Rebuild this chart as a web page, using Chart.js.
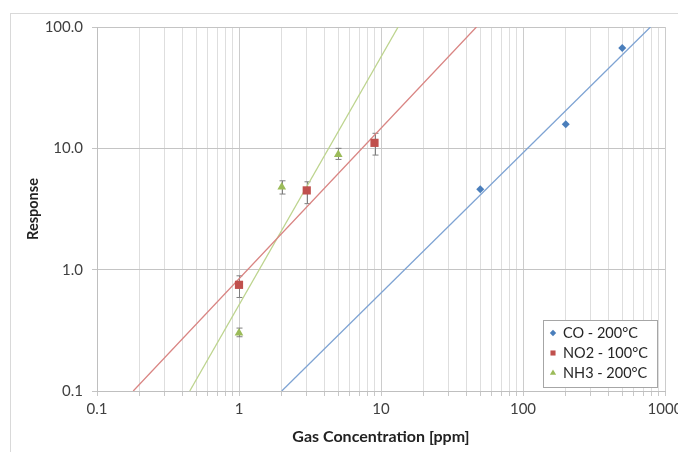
<!DOCTYPE html>
<html>
<head>
<meta charset="utf-8">
<script src="https://cdn.jsdelivr.net/npm/chart.js@4/dist/chart.umd.min.js"></script>
<style>
html, body { margin: 0; padding: 0; background: #fff; overflow: hidden; }
#wrap { position: relative; width: 678px; height: 452px; overflow: hidden; }
#frame { position: absolute; left: 10px; top: 13px; width: 700px; height: 460px;
         border-left: 1px solid #d9d9d9; border-top: 1px solid #d9d9d9; }
canvas { position: absolute; left: 0; top: 0; }
</style>
</head>
<body>
<div id="wrap">
  <div id="frame"></div>
  <canvas id="grafica" width="700" height="452"></canvas>
</div>
<script>
// measured points
var coX = [50, 200, 500];
var coY = [4.6, 15.8, 67];

var no2X = [1, 3, 9];
var no2Y = [0.75, 4.5, 11.1];
var no2Min = [0.59, 3.5, 8.8];
var no2Max = [0.89, 5.3, 13.3];

var nh3X = [1, 2, 5];
var nh3Y = [0.30, 4.8, 8.9];
var nh3Min = [0.28, 4.2, 8.1];
var nh3Max = [0.33, 5.4, 10.0];

// power-law trend lines, given by where they enter and leave the plot
var coTrendX = [2, 790];
var coTrendY = [0.1, 100];
var no2TrendX = [0.18, 47];
var no2TrendY = [0.1, 100];
var nh3TrendX = [0.45, 13.2];
var nh3TrendY = [0.1, 100];

var seriesNames = ['CO - 200°C', 'NO2 - 100°C', 'NH3 - 200°C'];
var seriesColors = ['#4a7ebb', '#c0504d', '#9bbb59'];
var trendColors = ['#7ea3d3', '#d98583', '#bdd48e'];
var markerStyles = ['rectRot', 'rect', 'triangle'];

var xTicks = [0.1, 1, 10, 100, 1000];
var xTickLabels = ['0.1', '1', '10', '100', '1000'];
var yTicks = [0.1, 1, 10, 100];
var yTickLabels = ['0.1', '1.0', '10.0', '100.0'];

function puntos(xs, ys) {
  var p = [];
  for (var i = 0; i < xs.length; i++) p.push({x: xs[i], y: ys[i]});
  return p;
}

Chart.defaults.font.family = 'Lato';
Chart.defaults.color = '#404040';

// vertical error bars for the series that have them
var errorBars = {
  id: 'errorBars',
  beforeDatasetsDraw: function (chart) {
    var ctx = chart.ctx;
    var xs = chart.scales.x, ys = chart.scales.y;
    var sets = [[no2X, no2Min, no2Max], [nh3X, nh3Min, nh3Max]];
    ctx.save();
    ctx.strokeStyle = '#7f7f7f';
    ctx.lineWidth = 1;
    sets.forEach(function (s) {
      for (var i = 0; i < s[0].length; i++) {
        var px = Math.round(xs.getPixelForValue(s[0][i])) + 0.5;
        var top = ys.getPixelForValue(s[2][i]);
        var bot = ys.getPixelForValue(s[1][i]);
        ctx.beginPath();
        ctx.moveTo(px, top); ctx.lineTo(px, bot);
        ctx.moveTo(px - 3, top); ctx.lineTo(px + 3, top);
        ctx.moveTo(px - 3, bot); ctx.lineTo(px + 3, bot);
        ctx.stroke();
      }
    });
    ctx.restore();
  }
};

// boxed legend inside the plot, lower right
var legendBox = {
  id: 'legendBox',
  afterDraw: function (chart) {
    var ctx = chart.ctx;
    var x0 = 543, y0 = 320, w = 114, h = 67;
    ctx.save();
    ctx.fillStyle = '#fff';
    ctx.fillRect(x0, y0, w, h);
    ctx.strokeStyle = '#a6a6a6';
    ctx.lineWidth = 1;
    ctx.strokeRect(x0 + 0.5, y0 + 0.5, w, h);
    ctx.font = '14.5px Lato';
    ctx.textBaseline = 'middle';
    for (var i = 0; i < seriesNames.length; i++) {
      var cy = y0 + 13 + i * 20;
      ctx.fillStyle = seriesColors[i];
      ctx.strokeStyle = seriesColors[i];
      Chart.helpers.drawPoint(ctx, {
        pointStyle: markerStyles[i], radius: i === 0 ? 3.2 : 3.6, rotation: 0, borderWidth: 0
      }, x0 + 10, cy);
      ctx.fillStyle = '#262626';
      ctx.fillText(seriesNames[i], x0 + 20, cy);
    }
    ctx.restore();
  }
};

var chart = new Chart(document.getElementById('grafica').getContext('2d'), {
  type: 'scatter',
  data: {
    datasets: [
      { label: seriesNames[0], data: puntos(coX, coY), backgroundColor: seriesColors[0],
        borderWidth: 0, pointStyle: 'rectRot', pointRadius: 4 },
      { label: seriesNames[1], data: puntos(no2X, no2Y), backgroundColor: seriesColors[1],
        borderWidth: 0, pointStyle: 'rect', pointRadius: 5.8 },
      { label: seriesNames[2], data: puntos(nh3X, nh3Y), backgroundColor: seriesColors[2],
        borderWidth: 0, pointStyle: 'triangle', pointRadius: 5 },
      { data: puntos(coTrendX, coTrendY), showLine: true, borderColor: trendColors[0],
        borderWidth: 1.3, pointRadius: 0 },
      { data: puntos(no2TrendX, no2TrendY), showLine: true, borderColor: trendColors[1],
        borderWidth: 1.3, pointRadius: 0 },
      { data: puntos(nh3TrendX, nh3TrendY), showLine: true, borderColor: trendColors[2],
        borderWidth: 1.3, pointRadius: 0 }
    ]
  },
  options: {
    responsive: false,
    animation: false,
    layout: { padding: { left: 25, top: 27, right: 35, bottom: 5 } },
    plugins: { legend: { display: false }, tooltip: { enabled: false } },
    scales: {
      x: {
        type: 'logarithmic', min: 0.1, max: 1000,
        afterBuildTicks: function (s) {
          var t = [];
          xTicks.forEach(function (v, i) {
            t.push({value: v});
            if (i < xTicks.length - 1) {
              for (var k = 2; k < 10; k++) t.push({value: v * k});
            }
          });
          s.ticks = t;
        },
        afterFit: function (s) { s.height = 56; },
        ticks: {
          autoSkip: false, maxRotation: 0, padding: 4,
          font: { size: 15 },
          callback: function (v) {
            var i = xTicks.indexOf(v);
            return i >= 0 ? xTickLabels[i] : '';
          }
        },
        grid: {
          color: function (c) { return xTicks.indexOf(c.tick && c.tick.value) >= 0 ? '#cccccc' : '#dedede'; },
          tickColor: '#c8c8c8', tickLength: 5
        },
        border: { color: '#bfbfbf' },
        title: { display: true, text: 'Gas Concentration [ppm]', color: '#222',
                 font: { size: 16, weight: 'bold' }, padding: { top: 0, bottom: 1 } }
      },
      y: {
        type: 'logarithmic', min: 0.1, max: 100,
        afterBuildTicks: function (s) {
          s.ticks = yTicks.map(function (v) { return {value: v}; });
        },
        afterFit: function (s) { s.width = 72; },
        ticks: {
          padding: 9, font: { size: 15 },
          callback: function (v) {
            var i = yTicks.indexOf(v);
            return i >= 0 ? yTickLabels[i] : '';
          }
        },
        grid: { color: '#c4c4c4', tickColor: '#c4c4c4', tickLength: 5 },
        border: { color: '#bfbfbf' },
        title: { display: true, text: 'Response', color: '#222',
                 font: { size: 14.5, weight: 'bold' }, padding: { top: 0, bottom: 0 } }
      }
    }
  },
  plugins: [errorBars, legendBox]
});
</script>
</body>
</html>
